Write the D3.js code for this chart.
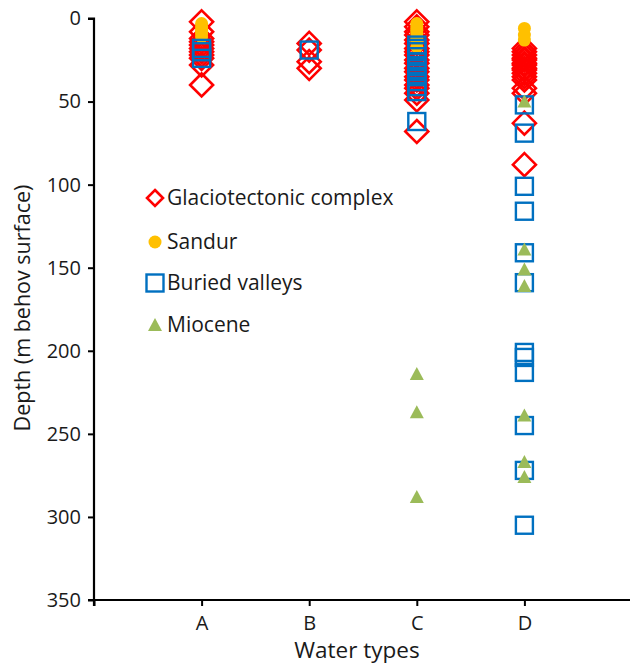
<!DOCTYPE html>
<html>
<head>
<meta charset="utf-8">
<style>
  body { margin: 0; background: #fff; }
  text { font-family: "Open Sans", sans-serif; fill: #1a1a1a; }
</style>
</head>
<body>
<script src="https://d3js.org/d3.v7.min.js"></script>
<script>
// categories on the x axis (positions 1..4)
var categories = ["A", "B", "C", "D"];
var depthTicks = [0, 50, 100, 150, 200, 250, 300, 350];

// depth (m) per category, one array per series, index = category
var glacioDepths = [
  [2, 8, 12, 14, 16, 18, 20, 22, 24, 28, 40],
  [15, 19, 26, 30],
  [2, 5, 8, 10, 13, 15, 18, 20, 22, 25, 27, 30, 32, 35, 37, 40, 42, 45, 49, 68],
  [18, 20, 22, 24, 25, 27, 28, 30, 31, 33, 35, 37, 42, 45, 63, 88]
];
var sandurDepths = [
  [3, 5, 7, 9, 11],
  [],
  [3, 5, 7, 9, 12, 14, 17],
  [6, 10, 13]
];
var buriedDepths = [
  [18, 20, 24],
  [19],
  [16, 18, 20, 23, 26, 29, 32, 35, 38, 41, 44, 62],
  [52, 69, 101, 116, 141, 159, 201, 204, 213, 245, 272, 305]
];
var mioceneDepths = [
  [],
  [],
  [214, 237, 288],
  [50, 139, 151, 161, 239, 267, 276]
];

var seriesNames = ["Glaciotectonic complex", "Sandur", "Buried valleys", "Miocene"];

var W = 630, H = 665;
var svg = d3.select("body").append("svg").attr("width", W).attr("height", H);

var x = d3.scaleLinear().domain([0, 5]).range([94, 632]);
var y = d3.scaleLinear().domain([0, 350]).range([18.5, 600]);

// axes
var yAxis = svg.append("g").attr("transform", "translate(" + x(0) + ",0)")
  .call(d3.axisLeft(y).tickValues(depthTicks).tickSize(6).tickPadding(7));
var xAxis = svg.append("g").attr("transform", "translate(0," + y(350) + ")")
  .call(d3.axisBottom(x).tickValues([0, 1, 2, 3, 4, 5]).tickSize(6).tickPadding(8)
    .tickFormat(function (d) { return categories[d - 1] || ""; }));

[yAxis, xAxis].forEach(function (g) {
  g.select(".domain").attr("stroke", "#000").attr("stroke-width", 2.2);
  g.selectAll(".tick line").attr("stroke", "#000").attr("stroke-width", 2);
  g.selectAll(".tick text").attr("font-size", 20).attr("font-family", "Open Sans").attr("fill", "#1a1a1a");
});
yAxis.select(".domain").attr("d", "M-6," + y(0) + "H0V" + y(350) + "H-6");
xAxis.select(".domain").attr("d", "M" + x(0) + ",6V0H" + W);
xAxis.selectAll(".tick text").attr("dy", "0.8em");

// axis titles
svg.append("text").attr("x", 357).attr("y", 658).attr("text-anchor", "middle")
  .attr("font-size", 22.5).text("Water types");
svg.append("text").attr("transform", "translate(30,308) rotate(-90)").attr("text-anchor", "middle")
  .attr("font-size", 21.5).text("Depth (m behov surface)");

// flatten a series into points
function pts(arr) {
  var out = [];
  arr.forEach(function (list, i) {
    list.forEach(function (d) { out.push({ cat: i + 1, depth: d }); });
  });
  return out;
}

var plot = svg.append("g");

// marker drawers
function diamond(g, cx, cy, s) {
  s = s || 11.5;
  g.append("path").attr("d", "M" + cx + "," + (cy - s) + "L" + (cx + s) + "," + cy + "L" + cx + "," + (cy + s) + "L" + (cx - s) + "," + cy + "Z")
    .attr("fill", "none").attr("stroke", "#ff0000").attr("stroke-width", 2.6);
}
function dot(g, cx, cy) {
  g.append("circle").attr("cx", cx).attr("cy", cy).attr("r", 6.5).attr("fill", "#ffc000");
}
function square(g, cx, cy) {
  g.append("rect").attr("x", cx - 8.5).attr("y", cy - 8.5).attr("width", 17).attr("height", 17)
    .attr("fill", "none").attr("stroke", "#0070c0").attr("stroke-width", 2.4);
}
function triangle(g, cx, cy) {
  g.append("path").attr("d", "M" + cx + "," + (cy - 7) + "L" + (cx + 7) + "," + (cy + 6) + "L" + (cx - 7) + "," + (cy + 6) + "Z")
    .attr("fill", "#9bbb59");
}

var drawers = [diamond, dot, square, triangle];
var allSeries = [glacioDepths, sandurDepths, buriedDepths, mioceneDepths];

allSeries.forEach(function (s, k) {
  var g = plot.append("g");
  pts(s).forEach(function (p) { drawers[k](g, x(p.cat), y(p.depth)); });
});

// legend
var legendY = [198, 242, 283, 325];
var legend = svg.append("g");
seriesNames.forEach(function (name, k) {
  if (k === 0) diamond(legend, 155, legendY[k], 8);
  else drawers[k](legend, 155, legendY[k]);
  legend.append("text").attr("x", 167).attr("y", legendY[k]).attr("dy", "0.35em")
    .attr("font-size", 21).text(name);
});
</script>
</body>
</html>
